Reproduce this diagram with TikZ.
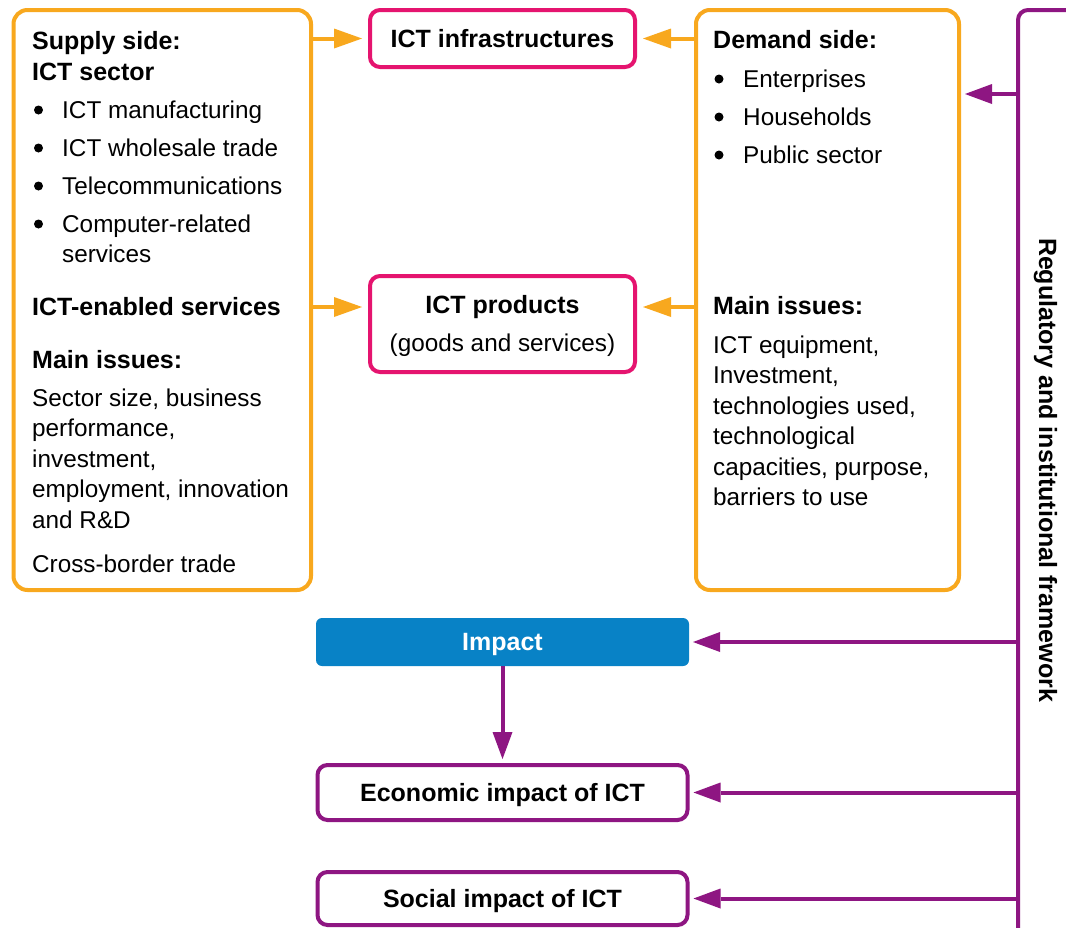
\documentclass[tikz,border=0pt]{standalone}
\usepackage{fontspec}
\setmainfont{Liberation Sans}
\usetikzlibrary{arrows.meta}
\definecolor{ictorange}{HTML}{F8A81E}
\definecolor{ictpink}{HTML}{E5146F}
\definecolor{ictpurple}{HTML}{8E1682}
\definecolor{ictblue}{HTML}{0882C6}
\begin{document}
\begin{tikzpicture}[x=1pt,y=-1pt,
  box/.style={draw, line width=4pt, rounded corners=12pt, inner sep=0pt, fill=white,
    text height=17.5pt, text depth=0pt, font=\fontsize{25}{30}\selectfont\bfseries},
  obox/.style={box, draw=ictorange, rounded corners=14pt},
  pbox/.style={box, draw=ictpink, rounded corners=10pt},
  vbox/.style={box, draw=ictpurple, rounded corners=10pt},
  bbox/.style={box, draw=none, fill=ictblue, text=white, rounded corners=6pt, outer sep=0pt},
  rg/.style={font=\fontsize{24.3}{30}\selectfont, anchor=base west, inner sep=0pt},
  bd/.style={font=\fontsize{25}{30}\selectfont\bfseries, anchor=base west, inner sep=0pt},
  bul/.style={circle, fill=black, inner sep=0pt, minimum size=9pt},
  oarr/.style={draw=ictorange, line width=4pt, -{Triangle[length=28pt,width=20pt,line width=0pt]}, shorten >=6pt},
  varr/.style={draw=ictpurple, line width=4pt, -{Triangle[length=27pt,width=20pt,line width=0pt]}, shorten >=4pt},
]
\fill[white] (0,0) rectangle (1066,927);
\useasboundingbox (0,0) rectangle (1066,927);

% boxes
\node[obox, minimum width=297.5pt, minimum height=580pt] (supply) at (162.25,300) {};
\node[obox, minimum width=263pt, minimum height=580pt] (demand) at (827.5,300) {};
\node[pbox, minimum width=265pt, minimum height=57pt] (infra) at (502.5,38.5) {ICT infrastructures};
\node[pbox, minimum width=265pt, minimum height=96pt] (prod) at (502.5,324) {};
\node[vbox, minimum width=90pt, minimum height=980pt, anchor=north west] (reg) at (1016,8) {};
\node[bbox, minimum width=373pt, minimum height=48pt] (impact) at (502.5,642) {Impact};
\node[vbox, minimum width=370pt, minimum height=55pt] (econ) at (502.5,792.5) {Economic impact of ICT};
\node[vbox, minimum width=370pt, minimum height=53pt] (social) at (502.5,898.5) {Social impact of ICT};

% products text
\node[bd, anchor=base] (pt1) at (502.5,313) {ICT products};
\node[rg, anchor=base] (pt2) at (502.5,351) {(goods and services)};

% supply side text
\node[bd] (s1) at (32,49) {Supply side:};
\node[bd] (s2) at (32,80) {ICT sector};
\node[bul] (sb1) at (38.5,110) {};
\node[rg] (st1) at (62,118) {ICT manufacturing};
\node[bul] (sb2) at (38.5,148) {};
\node[rg] (st2) at (62,156) {ICT wholesale trade};
\node[bul] (sb3) at (38.5,186) {};
\node[rg] (st3) at (62,194) {Telecommunications};
\node[bul] (sb4) at (38.5,224) {};
\node[rg] (st4) at (62,232) {Computer-related};
\node[rg] (st5) at (62,262) {services};
\node[bd] (s3) at (32,315) {ICT-enabled services};
\node[bd] (s4) at (32,368) {Main issues:};
\node[rg] (si1) at (32,406) {Sector size, business};
\node[rg] (si2) at (32,436.5) {performance,};
\node[rg] (si3) at (32,467) {investment,};
\node[rg] (si4) at (32,497.5) {employment, innovation};
\node[rg] (si5) at (32,528) {and R\&D};
\node[rg] (si6) at (32,572) {Cross-border trade};

% demand side text
\node[bd] (d1) at (713,48) {Demand side:};
\node[bul] (db1) at (719,79) {};
\node[rg] (dt1) at (743,87) {Enterprises};
\node[bul] (db2) at (719,117) {};
\node[rg] (dt2) at (743,125) {Households};
\node[bul] (db3) at (719,155) {};
\node[rg] (dt3) at (743,163) {Public sector};
\node[bd] (d2) at (713,314) {Main issues:};
\node[rg] (di1) at (713,353) {ICT equipment,};
\node[rg] (di2) at (713,383.5) {Investment,};
\node[rg] (di3) at (713,414) {technologies used,};
\node[rg] (di4) at (713,444.5) {technological};
\node[rg] (di5) at (713,475) {capacities, purpose,};
\node[rg] (di6) at (713,505) {barriers to use};

% regulatory text
\node[bd, rotate=-90, anchor=base] (regt) at (1039,470) {Regulatory and institutional framework};

% connectors
\coordinate (pl) at (368,307);
\coordinate (pr) at (637,307);
\coordinate (dm) at (961,94);
\draw[oarr] (supply.east |- infra.west) -- (infra.west);
\draw[oarr] (demand.west |- infra.east) -- (infra.east);
\draw[oarr] (supply.east |- pl) -- (pl);
\draw[oarr] (demand.west |- pr) -- (pr);
\draw[varr] (reg.west |- dm) -- (dm);
\draw[varr] (reg.west |- impact.east) -- (impact.east);
\draw[varr] (reg.west |- econ.east) -- (econ.east);
\draw[varr] (reg.west |- social.east) -- (social.east);
\draw[varr] (impact.south) -- (econ.north);
\end{tikzpicture}
\end{document}
